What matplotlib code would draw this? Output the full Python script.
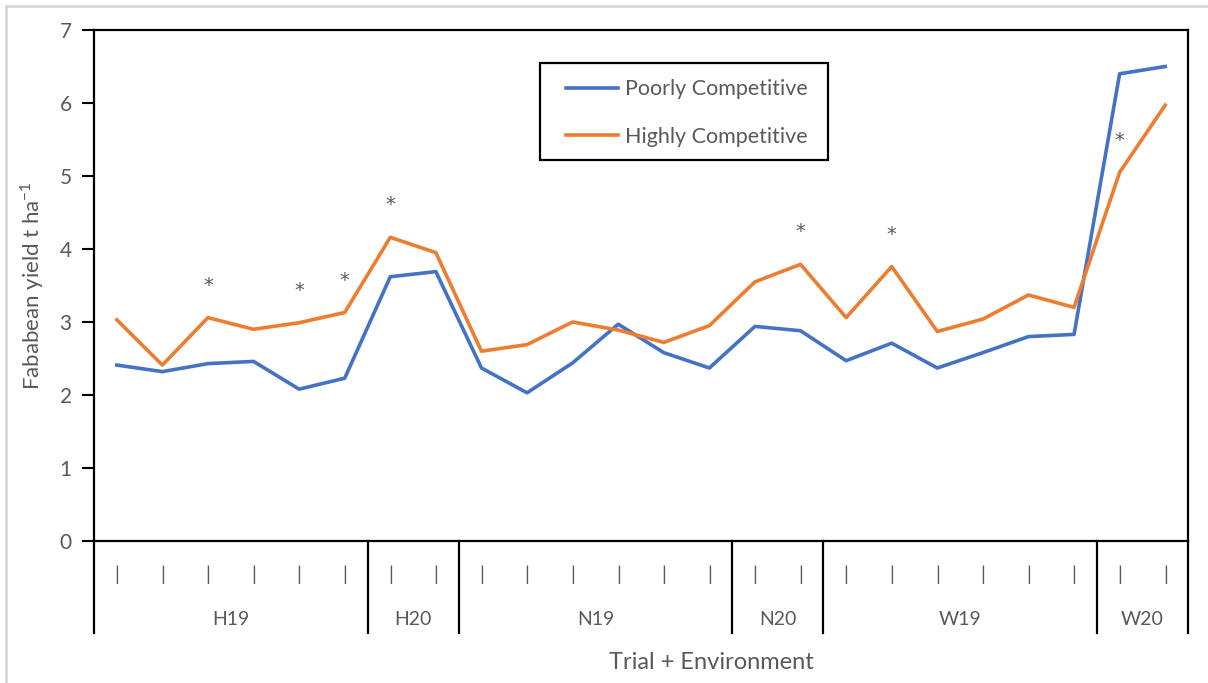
import numpy as np
import matplotlib.pyplot as plt
from matplotlib.lines import Line2D
from matplotlib.patches import Rectangle
from matplotlib.transforms import blended_transform_factory

plt.rcParams['font.family'] = ['Lato', 'DejaVu Sans']

# yield per trial entry, t/ha
poorly = [2.41, 2.32, 2.43, 2.46, 2.08, 2.23, 3.62, 3.69,
          2.37, 2.03, 2.44, 2.97, 2.58, 2.37, 2.94, 2.88,
          2.47, 2.71, 2.37, 2.58, 2.80, 2.83, 6.40, 6.50]
highly = [3.03, 2.41, 3.06, 2.90, 2.99, 3.13, 4.16, 3.95,
          2.60, 2.69, 3.00, 2.89, 2.72, 2.95, 3.55, 3.79,
          3.06, 3.76, 2.87, 3.04, 3.37, 3.20, 5.05, 5.97]
tick_labels = ["|"] * 24
groups = ["H19", "H20", "N19", "N20", "W19", "W20"]
group_sizes = [6, 2, 6, 2, 6, 2]
# entries with a significant difference
signif = [2, 4, 5, 6, 15, 17, 22]

grey = "#595959"
fig = plt.figure(figsize=(12.08, 6.83), dpi=100)
ax = fig.add_axes([94 / 1208, 142 / 683, 1094 / 1208, 511 / 683])

x = np.arange(len(poorly))
ax.plot(x, poorly, color="#4472C4", lw=2.6, label="Poorly Competitive")
ax.plot(x, highly, color="#ED7D31", lw=2.6, label="Highly Competitive")

for i in signif:
    ax.annotate("*", (i, highly[i] + 0.5), xytext=(0, -3),
                textcoords="offset points", ha="center", va="center",
                fontsize=14, color=grey, family="DejaVu Sans")

ax.set_xlim(-0.5, len(x) - 0.5)
ax.set_ylim(0, 7)
ax.set_yticks(range(8))
ax.tick_params(axis="y", length=9, width=1.5, colors="black",
               labelcolor=grey, labelsize=15, pad=7)
ax.set_xticks(x)
ax.set_xticklabels(tick_labels)
ax.tick_params(axis="x", length=0, labelcolor=grey, labelsize=14, pad=18)
for s in ax.spines.values():
    s.set_linewidth(1.6)
    s.set_color("black")

# grouped category axis
trans = blended_transform_factory(ax.transData, ax.transAxes)
edges = np.concatenate([[0], np.cumsum(group_sizes)]) - 0.5
for e in edges:
    ax.plot([e, e], [0, -0.18], color="black", lw=1.6,
            transform=trans, clip_on=False)
for name, a, b in zip(groups, edges[:-1], edges[1:]):
    ax.text((a + b) / 2, -0.154, name, ha="center", va="center",
            fontsize=14, color=grey, transform=trans)

ax.text((711 - 94) / 1094, -0.237, "Trial + Environment", ha="center",
        va="center", fontsize=17, color=grey, transform=ax.transAxes)
ax.set_ylabel("Fababean yield t ha$^{\\mathregular{-1}}$", fontsize=16,
              color=grey, labelpad=10)

leg = ax.legend(loc="upper left", bbox_to_anchor=(0.4314, 0.904),
                fontsize=15.5, frameon=False, handlelength=2.4,
                handletextpad=0.35, labelspacing=1.28,
                borderpad=0, borderaxespad=0)
for t in leg.get_texts():
    t.set_color(grey)
ax.add_patch(Rectangle((0.4077, 0.7456), 0.2633, 0.1898,
                       transform=ax.transAxes, fill=False,
                       edgecolor="black", lw=1.6, zorder=5))

# light chart-area border (left and top edges)
fig.add_artist(Line2D([6 / 1208, 6 / 1208], [0, 1 - 6 / 683],
                      color="#d9d9d9", lw=2))
fig.add_artist(Line2D([6 / 1208, 1], [1 - 6 / 683, 1 - 6 / 683],
                      color="#d9d9d9", lw=2))

fig.savefig("out.png", dpi=100)
